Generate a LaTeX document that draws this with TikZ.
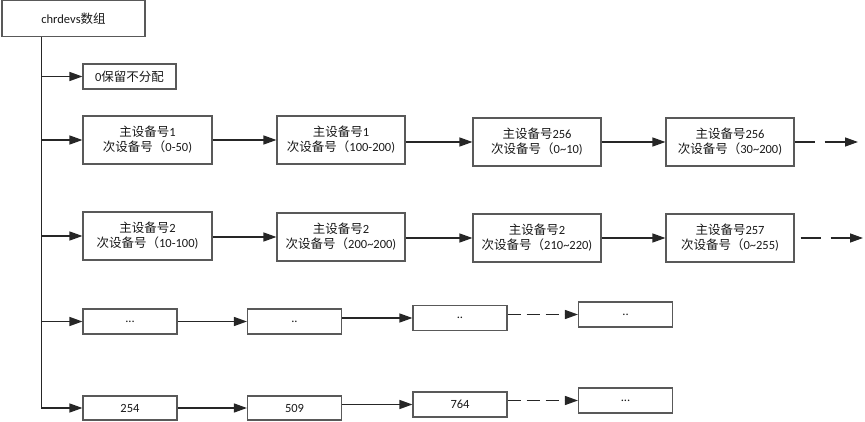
\documentclass[tikz,border=0pt]{standalone}
\usepackage{fontspec}
\setmainfont{Carlito}
\newfontfamily\cjk{Noto Sans CJK SC}
\usetikzlibrary{arrows.meta}
\newcommand{\zs}[1]{{\cjk 主设备号}#1}
\newcommand{\cs}[1]{{\cjk 次设备号（}#1)}
\tikzset{
  box/.style={draw=black!65, line width=1.1pt, fill=white, inner sep=0pt, align=center,
    font=\fontsize{12.5}{15}\selectfont, text=black!90},
  bigbox/.style={box, minimum width=128pt, minimum height=48pt},
  smallbox/.style={box, minimum width=94pt, minimum height=25pt},
  arr/.style={draw=black!85, line width=1.3pt, -{Triangle[length=13pt,width=9pt]}},
  darr/.style={arr, dash pattern=on 20pt off 10pt},
  sdarr/.style={arr, dash pattern=on 13pt off 6pt},
}
\begin{document}
\begin{tikzpicture}[x=1pt,y=-1pt]
\useasboundingbox (0,0) rectangle (865,422);
\node[box, minimum width=143pt, minimum height=36pt] (head) at (73.5,18.5) {chrdevs{\cjk 数组}};
\node[box, minimum width=93pt, minimum height=25pt] (r0) at (129.5,76.5) {0{\cjk 保留不分配}};
% row 1
\node[bigbox, minimum width=129pt] (b11) at (147.5,140) {\zs{1}\\\cs{0-50}};
\node[bigbox] (b12) at (341,140) {\zs{1}\\\cs{100-200}};
\node[bigbox] (b13) at (537,142) {\zs{256}\\\cs{0\textasciitilde 10}};
\node[bigbox] (b14) at (730,142) {\zs{256}\\\cs{30\textasciitilde 200}};
\coordinate (e1) at (858,142);
% row 2
\node[bigbox, minimum width=129pt] (b21) at (147.5,236) {\zs{2}\\\cs{10-100}};
\node[bigbox] (b22) at (341,237) {\zs{2}\\\cs{200\textasciitilde 200}};
\node[bigbox] (b23) at (537,238) {\zs{2}\\\cs{210\textasciitilde 220}};
\node[bigbox] (b24) at (730,238) {\zs{257}\\\cs{0\textasciitilde 255}};
\coordinate (e2) at (863,238);
% row 3
\node[smallbox] (b31) at (130,321.5) {...};
\node[smallbox] (b32) at (294.5,321.5) {..};
\node[smallbox] (b33) at (460,318) {..};
\node[smallbox] (b34) at (625.5,314.5) {..};
% row 4
\node[smallbox, minimum height=24pt] (b41) at (130,408) {254};
\node[smallbox, minimum height=24pt] (b42) at (294.5,408) {509};
\node[smallbox] (b43) at (460,404.5) {764};
\node[smallbox] (b44) at (625.5,400.5) {...};
% trunk
\coordinate (tx) at (41.7,0);
\draw[draw=black!85, line width=1.3pt] (head.south -| tx) -- (tx |- b41.west) -- ([xshift=-12pt]b41.west);
\foreach \n in {r0,b11,b21,b31,b41}
  \draw[arr] (tx |- \n.west) -- (\n.west);
% horizontal links
\draw[arr] (b11.east) -- (b12.west);
\draw[arr] (b12.east |- b13.west) -- (b13.west);
\draw[arr] (b13.east) -- (b14.west);
\draw[darr] (b14.east) -- (e1);
\draw[arr] (b21.east |- b22.west) -- (b22.west);
\draw[arr] (b22.east |- b23.west) -- (b23.west);
\draw[arr] (b23.east) -- (b24.west);
\draw[darr] ([xshift=6pt]b24.east) -- (e2);
\draw[arr] (b31.east) -- (b32.west);
\draw[arr] (b32.east |- b33.west) -- (b33.west);
\draw[sdarr] (b33.east |- b34.west) -- (b34.west);
\draw[arr] (b41.east) -- (b42.west);
\draw[arr] (b42.east |- b43.west) -- (b43.west);
\draw[sdarr] (b43.east |- b44.west) -- (b44.west);
\end{tikzpicture}
\end{document}
